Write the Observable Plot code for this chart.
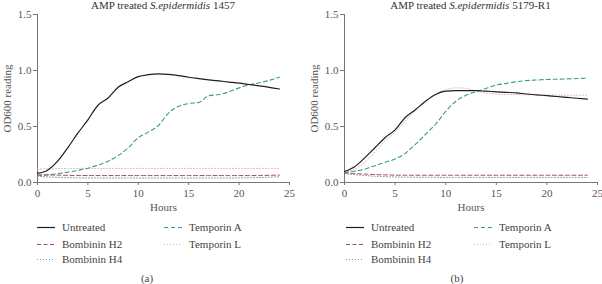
<!DOCTYPE html>
<html>
<head>
<meta charset="utf-8">
<script src="https://cdn.jsdelivr.net/npm/d3@7"></script>
<script src="https://cdn.jsdelivr.net/npm/@observablehq/plot@0.6"></script>
<style>
  html, body { margin: 0; padding: 0; background: #fff; }
  #wrap { position: relative; width: 602px; height: 284px; font-family: "Liberation Serif", "DejaVu Serif", serif; color: #444; }
  .panel { position: absolute; top: 0; }
  .leg { position: absolute; font-size: 11px; line-height: 12px; white-space: nowrap; color: #444; }
  .leg svg { position: absolute; top: 0; }
  .cap { position: absolute; font-size: 11px; color: #444; transform: translateX(-50%); }
</style>
</head>
<body>
<div id="wrap"></div>
<script>
// ---- data ----
const hours = [0,1,2,3,4,5,6,7,8,9,10,11,12,13,14,15,16,17,18,19,20,21,22,23,24];
const seriesNames = ["Untreated", "Bombinin H2", "Bombinin H4", "Temporin A", "Temporin L"];
const xTicks = [0, 5, 10, 15, 20, 25];
const yTicks = [0.0, 0.5, 1.0, 1.5];
const titlesA = ["AMP treated ", "S.epidermidis", " 1457"];
const titlesB = ["AMP treated ", "S.epidermidis", " 5179-R1"];

// Panel (a): S. epidermidis 1457
const untreatedA  = [0.083,0.11,0.19,0.31,0.44,0.56,0.69,0.755,0.85,0.90,0.945,0.963,0.97,0.965,0.955,0.94,0.928,0.917,0.907,0.897,0.887,0.875,0.863,0.85,0.835];
const bombH2A     = [0.07,0.068,0.066,0.064,0.063,0.062,0.062,0.062,0.062,0.062,0.062,0.062,0.062,0.062,0.062,0.062,0.062,0.062,0.062,0.062,0.062,0.062,0.063,0.064,0.066];
const bombH4A     = [0.055,0.05,0.046,0.043,0.041,0.04,0.04,0.04,0.04,0.04,0.04,0.04,0.04,0.04,0.04,0.04,0.04,0.04,0.04,0.04,0.041,0.042,0.044,0.047,0.052];
const temporinAA  = [0.06,0.068,0.078,0.092,0.108,0.128,0.155,0.19,0.24,0.31,0.40,0.45,0.51,0.62,0.68,0.705,0.715,0.775,0.785,0.81,0.845,0.872,0.89,0.912,0.94];
const temporinLA  = [0.12,0.122,0.124,0.125,0.126,0.126,0.126,0.126,0.126,0.126,0.126,0.126,0.126,0.126,0.126,0.126,0.126,0.126,0.126,0.126,0.126,0.126,0.126,0.126,0.126];

// Panel (b): S. epidermidis 5179-R1
const untreatedB  = [0.098,0.14,0.22,0.31,0.40,0.47,0.58,0.65,0.725,0.785,0.815,0.82,0.82,0.82,0.815,0.81,0.805,0.80,0.79,0.783,0.775,0.768,0.76,0.752,0.745];
const bombH2B     = [0.085,0.08,0.075,0.071,0.068,0.066,0.065,0.065,0.065,0.065,0.065,0.065,0.065,0.065,0.065,0.065,0.065,0.065,0.065,0.065,0.065,0.065,0.065,0.065,0.065];
const bombH4B     = [0.08,0.07,0.062,0.056,0.052,0.049,0.048,0.047,0.046,0.046,0.045,0.045,0.045,0.045,0.045,0.045,0.045,0.045,0.045,0.045,0.045,0.045,0.045,0.045,0.045];
const temporinAB  = [0.09,0.10,0.12,0.15,0.18,0.21,0.26,0.34,0.43,0.52,0.635,0.725,0.78,0.81,0.84,0.87,0.885,0.90,0.91,0.915,0.92,0.922,0.925,0.928,0.932];
const temporinLB  = [0.09,0.12,0.18,0.27,0.37,0.45,0.55,0.64,0.72,0.79,0.83,0.845,0.84,0.82,0.80,0.79,0.787,0.785,0.783,0.782,0.781,0.78,0.78,0.78,0.78];

// ---- styles ----
const styles = {
  "Untreated":   {stroke: "#1e1e1e", dash: null,  width: 1.2},
  "Bombinin H2": {stroke: "#a24c66", dash: "4,2.5", width: 1},
  "Bombinin H4": {stroke: "#8a8fae", dash: "1,2", width: 1},
  "Temporin A":  {stroke: "#3c9c7a", dash: "4,3", width: 1.1},
  "Temporin L":  {stroke: "#e6b0ae", dash: "1,2", width: 1}
};

function toRows(arrays) {
  const rows = [];
  seriesNames.forEach((name, i) => {
    hours.forEach((h, j) => rows.push({series: name, hour: h, od: arrays[i][j]}));
  });
  return rows;
}

const dataA = toRows([untreatedA, bombH2A, bombH4A, temporinAA, temporinLA]);
const dataB = toRows([untreatedB, bombH2B, bombH4B, temporinAB, temporinLB]);

function makePanel(rows, title, mLeft, mRight) {
  const W = 301, H = 216;
  const lineMarks = seriesNames.slice().reverse().map(name => Plot.line(rows.filter(d => d.series === name), {
    x: "hour", y: "od", curve: "monotone-x",
    stroke: styles[name].stroke, strokeWidth: styles[name].width,
    strokeDasharray: styles[name].dash
  }));
  const svg = Plot.plot({
    width: W, height: H,
    marginLeft: mLeft, marginRight: mRight, marginTop: 14, marginBottom: 34,
    style: {fontFamily: "Liberation Serif, serif", fontSize: "11px", color: "#555", background: "transparent"},
    x: {domain: [0, 25]},
    y: {domain: [0, 1.5]},
    marks: [
      Plot.axisX({ticks: xTicks, tickSize: 3, tickPadding: 4, tickFormat: d => String(d), stroke: "#777", label: "Hours", labelAnchor: "center", labelArrow: "none", labelOffset: 28, fill: "#555"}),
      Plot.axisY({ticks: yTicks, tickSize: 4, tickPadding: 2, tickFormat: d3.format(".1f"), stroke: "#777", label: "OD600 reading", labelAnchor: "center", labelArrow: "none", labelOffset: 34, fill: "#555"}),
      Plot.ruleY([0], {x1: 0, x2: 25, stroke: "#777"}),
      Plot.ruleX([0], {y1: 0, y2: 1.5, stroke: "#777"}),
      ...lineMarks
    ]
  });
  // title as real svg text
  const ns = "http://www.w3.org/2000/svg";
  const t = document.createElementNS(ns, "text");
  const xMid = mLeft + (W - mLeft - mRight) / 2;
  t.setAttribute("x", xMid);
  t.setAttribute("y", 9);
  t.setAttribute("text-anchor", "middle");
  t.setAttribute("font-size", "11px");
  t.setAttribute("fill", "#333");
  title.forEach((s, i) => {
    const ts = document.createElementNS(ns, "tspan");
    ts.textContent = s;
    if (i === 1) ts.setAttribute("font-style", "italic");
    t.appendChild(ts);
  });
  svg.appendChild(t);
  return svg;
}

const wrap = document.getElementById("wrap");

function addPanel(svg, left) {
  const d = document.createElement("div");
  d.className = "panel";
  d.style.left = left + "px";
  d.appendChild(svg);
  wrap.appendChild(d);
}

addPanel(makePanel(dataA, titlesA, 37, 12), 0);
addPanel(makePanel(dataB, titlesB, 43, 5), 301);

// legends
const legendRows = [227, 244, 259];
function addLegend(left, colX, textDx) {
  const layout = [
    ["Untreated", 0, 0], ["Bombinin H2", 0, 1], ["Bombinin H4", 0, 2],
    ["Temporin A", 1, 0], ["Temporin L", 1, 1]
  ];
  layout.forEach(([name, c, r]) => {
    const s = styles[name];
    const div = document.createElement("div");
    div.className = "leg";
    div.style.left = (left + colX[c]) + "px";
    div.style.top = (legendRows[r] - 6) + "px";
    div.innerHTML = `<svg width="18" height="12"><line x1="0" x2="18" y1="6.5" y2="6.5" stroke="${s.stroke}" stroke-width="${s.width}" ${s.dash ? `stroke-dasharray="${s.dash}"` : ""}/></svg><span style="padding-left:${textDx}px">${name}</span>`;
    wrap.appendChild(div);
  });
}
addLegend(0, [37, 164], 25);
addLegend(301, [45, 173], 25);

const captions = [["(a)", 147], ["(b)", 457]];
captions.forEach(([txt, x]) => {
  const c = document.createElement("div");
  c.className = "cap";
  c.style.left = x + "px";
  c.style.top = "272px";
  c.textContent = txt;
  wrap.appendChild(c);
});
</script>
</body>
</html>
